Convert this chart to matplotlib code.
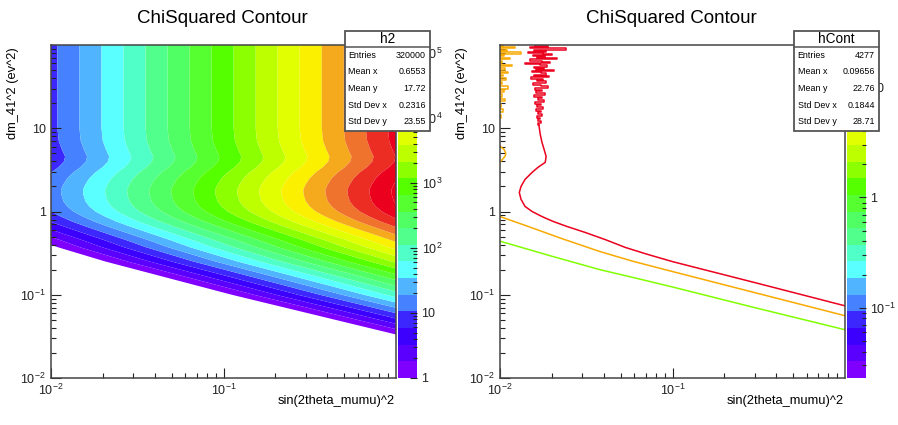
import numpy as np
import matplotlib
matplotlib.use("Agg")
import matplotlib.pyplot as plt
from matplotlib.colors import ListedColormap
from matplotlib.patches import Rectangle
from matplotlib.lines import Line2D
from matplotlib.ticker import FixedLocator, FuncFormatter, NullFormatter

plt.rcParams['font.family'] = ['Liberation Sans', 'DejaVu Sans']
plt.rcParams['mathtext.fontset'] = 'custom'
plt.rcParams['mathtext.rm'] = 'Liberation Sans'
plt.rcParams['mathtext.it'] = 'Liberation Sans:italic'
plt.rcParams['mathtext.bf'] = 'Liberation Sans:bold'

W, H = 898, 425

# 20 colour levels of the ROOT palette, bottom to top
palette = ['#8000ff', '#5a00ff', '#3c00ff', '#3c28ff', '#4682ff',
           '#50b4ff', '#5affff', '#50ffc8', '#50ff8c', '#50ff64',
           '#55ff30', '#55ff00', '#8cff00', '#beff00', '#e1ff00',
           '#faf000', '#f5aa1e', '#f0732d', '#eb2d23', '#eb001e']

# ---- h2 : chi2 map, read as value on the top row and a dex shift along dm2
sin2_knots = [0.01, 0.1, 1.0]
chi2_top = [8.9, 9.0e2, 9.1e4]
dm2_knots = [0.01, 0.0316, 0.1, 0.251, 0.372, 0.457, 0.562, 0.661, 0.759,
             0.871, 1.0, 1.148, 1.318, 1.585, 1.82, 2.09, 2.51, 2.95,
             3.39, 3.98, 4.57, 5.62, 7.08, 10.0, 100.0]
dm2_shift = [-7.05, -5.05, -3.05, -1.58, -1.03, -0.79, -0.53, -0.33, -0.17,
             -0.04, 0.07, 0.14, 0.185, 0.21, 0.215, 0.19, 0.14, 0.07,
             -0.01, -0.075, -0.09, -0.05, -0.015, 0.0, 0.0]
h2_zrange = (1.0, 1.32e5)
h2_stats = [("Entries", "320000"), ("Mean x", "0.6553"), ("Mean y", "17.72"),
            ("Std Dev x", "0.2316"), ("Std Dev y", "23.55")]

# ---- hCont : contour lines
red_noise_y = [100, 97, 94, 91, 88, 85.5, 83, 80.5, 78, 75.5, 73, 71, 69, 67,
               65, 63, 61, 59, 57, 55, 53, 51.5, 50, 48.5, 47, 45.5, 44, 42.5,
               41, 39.5, 38, 36.5, 35, 33.5, 32, 30.5, 29, 27.7, 26.4, 25.2,
               24, 22.9, 21.8, 20.8, 19.8, 18.9, 18, 17.1, 16.3, 15.5, 14.8,
               14.1, 13.4, 12.8, 12.2, 11.6, 11]
red_noise_x = [0.0160, 0.0190, 0.0150, 0.0240, 0.0158, 0.0185, 0.0145, 0.0178,
               0.0200, 0.0155, 0.0182, 0.0163, 0.0215, 0.0150, 0.0176, 0.0195,
               0.0140, 0.0170, 0.0188, 0.0157, 0.0180, 0.0162, 0.0205, 0.0153,
               0.0174, 0.0186, 0.0158, 0.0192, 0.0151, 0.0178, 0.0164, 0.0186,
               0.0156, 0.0172, 0.0190, 0.0159, 0.0176, 0.0162, 0.0183, 0.0157,
               0.0175, 0.0165, 0.0180, 0.0159, 0.0173, 0.0163, 0.0178, 0.0161,
               0.0172, 0.0165, 0.0175, 0.0163, 0.0171, 0.0166, 0.0172, 0.0167,
               0.0168]
red_x = [0.0168, 0.0171, 0.0175, 0.0180, 0.0185, 0.0183, 0.0166, 0.01535,
         0.01397, 0.01324, 0.01294, 0.01324, 0.01397, 0.01535, 0.0175, 0.0203,
         0.0245, 0.0312, 0.0407, 0.0533, 0.07, 0.1, 0.3, 1.0]
red_y = [11, 8.5, 6.8, 5.6, 4.6, 3.9, 3.39, 2.95, 2.43, 2.0, 1.69, 1.40, 1.15,
         1.0, 0.87, 0.76, 0.66, 0.56, 0.46, 0.37, 0.31, 0.25, 0.14, 0.0736]

orange_noise_y = [100, 97, 94, 91, 88, 85, 82, 79, 76, 73, 70, 67, 64, 61, 58,
                  55.5, 53, 50.5, 48, 46, 44, 42, 40, 38, 36, 34, 32, 30, 28.5,
                  27, 25.5, 24, 22.5, 21, 19.5, 18, 16.8, 15.6, 14.5, 13.4,
                  12.4]
orange_noise_x = [0.0104, 0.0097, 0.0122, 0.0098, 0.0110, 0.0097, 0.0132,
                  0.0098, 0.0106, 0.0097, 0.0115, 0.0098, 0.0103, 0.0097,
                  0.0118, 0.0098, 0.0107, 0.0097, 0.0112, 0.0098, 0.0104,
                  0.0097, 0.0109, 0.0098, 0.0103, 0.0097, 0.0111, 0.0098,
                  0.0105, 0.0097, 0.0103, 0.0098, 0.0107, 0.0097, 0.0102,
                  0.0098, 0.0104, 0.0097, 0.0102, 0.0097, 0.0096]
orange_bump_y = [6.6, 6.0, 5.5, 5.0, 4.6, 4.2, 3.9, 3.6]
orange_bump_x = [0.0097, 0.0101, 0.0106, 0.0108, 0.0107, 0.0103, 0.0100, 0.0097]
orange_x = [0.0098, 0.01, 0.0146, 0.023, 0.038, 0.06, 0.1, 0.3, 1.0]
orange_y = [0.90, 0.87, 0.66, 0.47, 0.33, 0.25, 0.19, 0.106, 0.056]

green_x = [0.01, 0.02, 0.038, 0.06, 0.1, 0.3, 1.0]
green_y = [0.44, 0.29, 0.20, 0.16, 0.124, 0.070, 0.038]

hcont_zrange = (0.0231, 24.1)
hcont_stats = [("Entries", "4277"), ("Mean x", "0.09656"), ("Mean y", "22.76"),
               ("Std Dev x", "0.1844"), ("Std Dev y", "28.71")]


def root_label(v, pos=None):
    e = int(round(np.log10(v)))
    if e == 0:
        return "1"
    if e == 1:
        return "10"
    return r"$10^{%d}$" % e


def decade_minors(lo, hi):
    out = []
    for e in range(lo, hi):
        out += [k * 10.0 ** e for k in range(2, 10)]
    return out


def style_axes(ax):
    ax.set_xscale('log')
    ax.set_yscale('log')
    ax.set_xlim(0.01, 1.0)
    ax.set_ylim(0.01, 100)
    ax.xaxis.set_major_locator(FixedLocator([0.01, 0.1]))
    ax.xaxis.set_minor_locator(FixedLocator(decade_minors(-2, 0)))
    ax.yaxis.set_major_locator(FixedLocator([0.01, 0.1, 1, 10]))
    ax.yaxis.set_minor_locator(FixedLocator(decade_minors(-2, 2)))
    ax.xaxis.set_major_formatter(FuncFormatter(root_label))
    ax.yaxis.set_major_formatter(FuncFormatter(root_label))
    ax.xaxis.set_minor_formatter(NullFormatter())
    ax.yaxis.set_minor_formatter(NullFormatter())
    ax.tick_params(which='both', direction='in', top=False, right=False,
                   width=0.8, colors='#222222', labelsize=9, pad=3.6)
    ax.tick_params(which='major', length=7)
    ax.tick_params(which='minor', length=3.6)
    for s in ax.spines.values():
        s.set_color('#444444')
        s.set_linewidth(1.1)


def draw_palette(cax, zrange):
    lo, hi = np.log10(zrange[0]), np.log10(zrange[1])
    edges = np.logspace(lo, hi, len(palette) + 1)
    cax.pcolormesh([0, 1], edges, np.arange(len(palette)).reshape(-1, 1),
                   cmap=ListedColormap(palette), vmin=-0.5,
                   vmax=len(palette) - 0.5)
    cax.set_yscale('log')
    cax.set_ylim(*zrange)
    cax.set_xlim(0, 1)
    cax.xaxis.set_visible(False)
    cax.yaxis.tick_right()
    majors = [10.0 ** e for e in range(int(np.floor(lo)), int(np.ceil(hi)) + 1)]
    cax.yaxis.set_major_locator(FixedLocator(majors))
    cax.yaxis.set_minor_locator(FixedLocator(
        decade_minors(int(np.floor(lo)), int(np.ceil(hi)))))
    cax.yaxis.set_major_formatter(FuncFormatter(root_label))
    cax.yaxis.set_minor_formatter(NullFormatter())
    cax.tick_params(which='both', direction='in', left=False, right=True,
                    width=0.8, colors='#222222', labelsize=9, pad=3.6)
    cax.tick_params(which='major', length=5)
    cax.tick_params(which='minor', length=3)
    for s in cax.spines.values():
        s.set_visible(False)


def panel_text(x0):
    fig.text((x0 + 222) / W, 1 - 23.3 / H, "ChiSquared Contour",
             ha='center', va='baseline', fontsize=13.5)
    fig.text((x0 + 395) / W, 1 - 404 / H, "sin(2theta_mumu)^2",
             ha='right', va='baseline', fontsize=9.3)
    fig.text((x0 + 13.3) / W, 1 - 47 / H, "dm_41^2 (ev^2)", rotation=90,
             ha='center', va='top', fontsize=9.3)


def stats_box(x0, name, rows):
    bx, by, bw, bh = x0 + 344.5, 31, 85.5, 100
    fig.add_artist(Rectangle((bx / W, 1 - (by + bh) / H), bw / W, bh / H,
                             transform=fig.transFigure, facecolor='white',
                             edgecolor='#555555', linewidth=1.3, zorder=10))
    fig.add_artist(Line2D([bx / W, (bx + bw) / W], [1 - 46.5 / H, 1 - 46.5 / H],
                          transform=fig.transFigure, color='#555555',
                          linewidth=1.1, zorder=11))
    fig.text((bx + bw / 2) / W, 1 - 39 / H, name, ha='center', va='center',
             fontsize=9.8, zorder=12)
    for i, (k, v) in enumerate(rows):
        y = 1 - (55.5 + i * 16.5) / H
        fig.text((bx + 4) / W, y, k, ha='left', va='center', fontsize=6.4,
                 zorder=12)
        fig.text((bx + 81.5) / W, y, v, ha='right', va='center', fontsize=6.4,
                 zorder=12)


fig = plt.figure(figsize=(W / 100, H / 100), dpi=100)

# ---------------- left panel
ax1 = fig.add_axes([51 / W, 1 - 378 / H, 345 / W, 333 / H])
cax1 = fig.add_axes([397.5 / W, 1 - 378 / H, 19 / W, 333 / H])

u = np.linspace(-2.0, 0.0, 301)
v = np.linspace(-2.0, 2.0, 601)
row = np.interp(u, np.log10(sin2_knots), np.log10(chi2_top))
col = np.interp(v, np.log10(dm2_knots), dm2_shift)
logz = col[:, None] + row[None, :]
levels = np.linspace(np.log10(h2_zrange[0]), np.log10(h2_zrange[1]),
                     len(palette) + 1)
ax1.contourf(10 ** u, 10 ** v, logz, levels=levels,
             colors=palette + [palette[-1]], extend='max', antialiased=True)
style_axes(ax1)
draw_palette(cax1, h2_zrange)
panel_text(0)
stats_box(0, "h2", h2_stats)

# ---------------- right panel
ax2 = fig.add_axes([500 / W, 1 - 378 / H, 345 / W, 333 / H])
cax2 = fig.add_axes([846.5 / W, 1 - 378 / H, 19 / W, 333 / H])

lw = 1.1
ax2.plot(red_noise_x, red_noise_y, color='#eb001e', lw=lw, drawstyle='steps-pre')
ax2.plot(red_x, red_y, color='#eb001e', lw=lw)
ax2.plot(orange_noise_x, orange_noise_y, color='#f8aa00', lw=lw,
         drawstyle='steps-pre')
ax2.plot(orange_bump_x, orange_bump_y, color='#f8aa00', lw=lw)
ax2.plot(orange_x, orange_y, color='#f8aa00', lw=lw)
ax2.plot(green_x, green_y, color='#80ff00', lw=lw)
style_axes(ax2)
draw_palette(cax2, hcont_zrange)
panel_text(449)
stats_box(449, "hCont", hcont_stats)

fig.savefig("out.png", dpi=100)
